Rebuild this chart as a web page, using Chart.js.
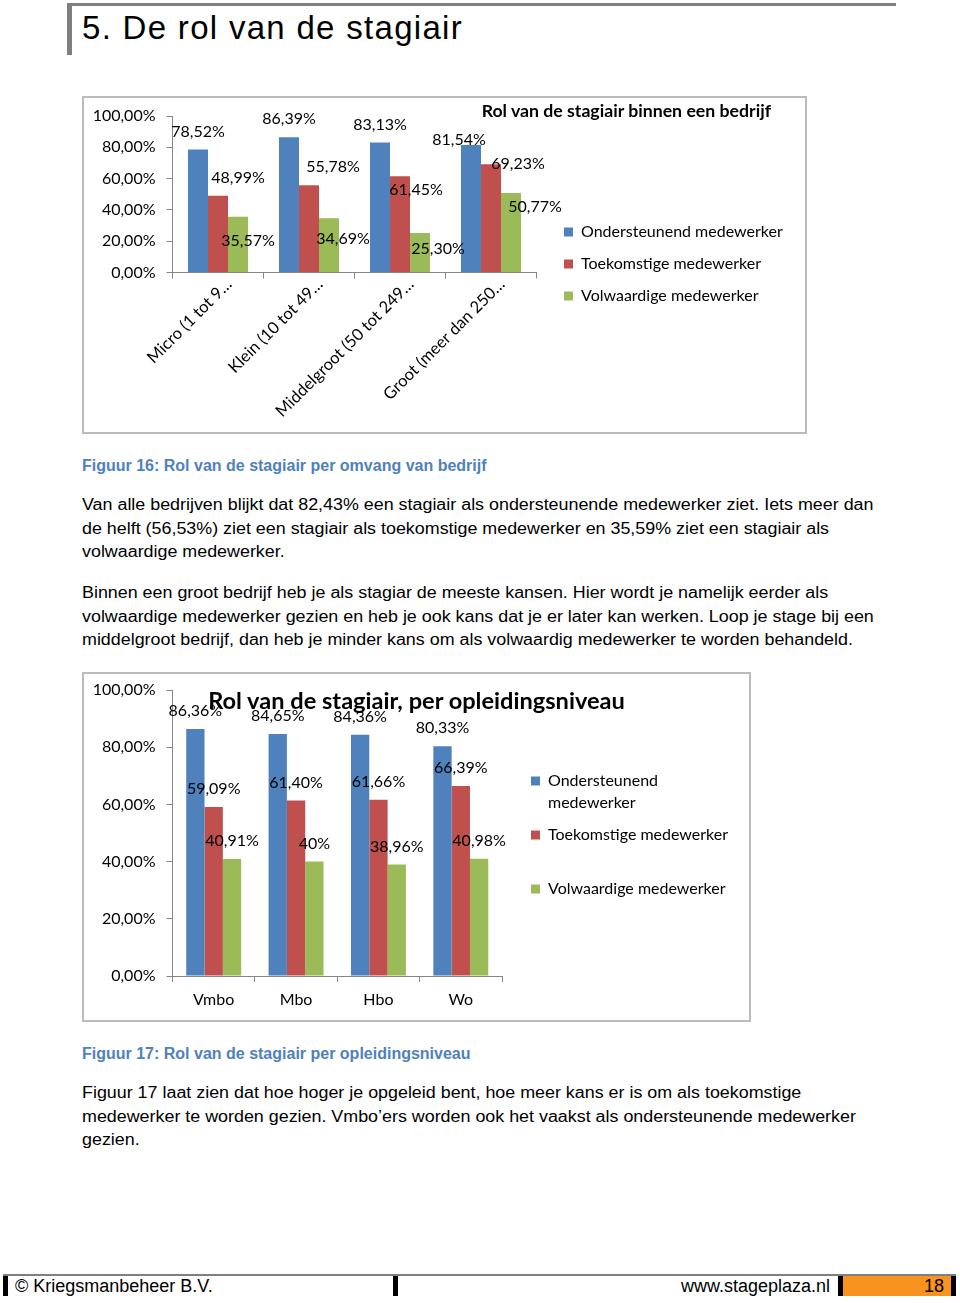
<!DOCTYPE html>
<html lang="nl">
<head>
    <meta charset="UTF-8">
    <title>5. De rol van de stagiair</title>
    <style>
        * {
            margin: 0;
            padding: 0;
            box-sizing: border-box;
        }

        body {
            width: 960px;
            height: 1303px;
            position: relative;
            overflow: hidden;
            background: #fff;
            color: #000;
            font-family: 'Liberation Sans', Arial, sans-serif;
        }

        .abs { position: absolute; }

        .head-top { left: 67px; top: 3px; width: 829px; height: 3px; background: #7f7f7f; }
        .head-left { left: 67px; top: 3px; width: 5px; height: 52px; background: #7f7f7f; }
        .page-title { left: 82px; top: 11px; font-size: 33px; line-height: 33px; letter-spacing: 1.3px; white-space: nowrap; }

        .chart-box {
            position: absolute;
            border: 2px solid #bcbcbc;
            background: #fff;
        }

        .chart-title {
            position: absolute;
            z-index: 2;
            font-family: Lato, 'Open Sans', sans-serif;
            font-weight: bold;
            white-space: nowrap;
        }

        .caption {
            left: 82px;
            font-size: 16px;
            line-height: 23.6px;
            font-weight: bold;
            color: #4f81bd;
            white-space: nowrap;
        }

        .para {
            left: 82px;
            font-size: 16px;
            line-height: 23.6px;
            white-space: nowrap;
            transform: scaleX(1.117);
            transform-origin: left top;
        }

        .foot-line { left: 3px; top: 1274px; width: 953px; height: 2px; background: #7f7f7f; }
        .foot-bar { top: 1276px; width: 5px; height: 20px; background: #000; }
        .foot-orange { left: 843px; top: 1276px; width: 108px; height: 20px; background: #f7931e; }
        .foot-text { top: 1277px; font-size: 18px; line-height: 18px; white-space: nowrap; }
    </style>
    <script src="https://cdn.jsdelivr.net/npm/chart.js@4.4.1/dist/chart.umd.min.js"></script>
</head>
<body>
    <div class="abs head-top"></div>
    <div class="abs head-left"></div>
    <div class="abs page-title">5. De rol van de stagiair</div>

    <div class="chart-box" style="left:82px; top:96px; width:725px; height:338px;">
        <div class="chart-title" style="right:34px; top:3px; font-size:17.7px; line-height:20px;">Rol van de stagiair binnen een bedrijf</div>
        <canvas id="sizeChart"></canvas>
    </div>

    <div class="abs caption" style="top:454px;">Figuur 16: Rol van de stagiair per omvang van bedrijf</div>

    <div class="abs para" style="top:493px;">
        Van alle bedrijven blijkt dat 82,43% een stagiair als ondersteunende medewerker ziet. Iets meer dan<br>
        de helft (56,53%) ziet een stagiair als toekomstige medewerker en 35,59% ziet een stagiair als<br>
        volwaardige medewerker.
    </div>

    <div class="abs para" style="top:581px;">
        Binnen een groot bedrijf heb je als stagiar de meeste kansen. Hier wordt je namelijk eerder als<br>
        volwaardige medewerker gezien en heb je ook kans dat je er later kan werken. Loop je stage bij een<br>
        middelgroot bedrijf, dan heb je minder kans om als volwaardig medewerker te worden behandeld.
    </div>

    <div class="chart-box" style="left:82px; top:672px; width:669px; height:350px;">
        <div class="chart-title" style="left:0; right:0; top:12px; text-align:center; font-size:23.6px; line-height:28px;">Rol van de stagiair, per opleidingsniveau</div>
        <canvas id="levelChart"></canvas>
    </div>

    <div class="abs caption" style="top:1042px;">Figuur 17: Rol van de stagiair per opleidingsniveau</div>

    <div class="abs para" style="top:1081px;">
        Figuur 17 laat zien dat hoe hoger je opgeleid bent, hoe meer kans er is om als toekomstige<br>
        medewerker te worden gezien. Vmbo’ers worden ook het vaakst als ondersteunende medewerker<br>
        gezien.
    </div>

    <div class="abs foot-line"></div>
    <div class="abs foot-bar" style="left:3px;"></div>
    <div class="abs foot-bar" style="left:393px;"></div>
    <div class="abs foot-bar" style="left:838px;"></div>
    <div class="abs foot-orange"></div>
    <div class="abs foot-bar" style="left:951px;"></div>
    <div class="abs foot-text" style="left:15px;">© Kriegsmanbeheer B.V.</div>
    <div class="abs foot-text" style="right:130px;">www.stageplaza.nl</div>
    <div class="abs foot-text" style="right:16px;">18</div>

    <script>
        // Figuur 16: per omvang van bedrijf
        const sizeLabels = ['Micro (1 tot 9…', 'Klein (10 tot 49…', 'Middelgroot (50 tot 249…', 'Groot (meer dan 250…'];
        const sizeOndersteunend = [78.52, 86.39, 83.13, 81.54];
        const sizeToekomstig = [48.99, 55.78, 61.45, 69.23];
        const sizeVolwaardig = [35.57, 34.69, 25.30, 50.77];

        // Figuur 17: per opleidingsniveau
        const levelLabels = ['Vmbo', 'Mbo', 'Hbo', 'Wo'];
        const levelOndersteunend = [86.36, 84.65, 84.36, 80.33];
        const levelToekomstig = [59.09, 61.40, 61.66, 66.39];
        const levelVolwaardig = [40.91, 40, 38.96, 40.98];

        const seriesNames = ['Ondersteunend medewerker', 'Toekomstige medewerker', 'Volwaardige medewerker'];
        const yTicks = [0, 20, 40, 60, 80, 100];

        const colors = ['#4f81bd', '#c0504d', '#9bbb59'];
        const axisColor = '#868686';

        Chart.defaults.font.family = "Lato, 'Open Sans', sans-serif";
        Chart.defaults.font.size = 16;
        Chart.defaults.color = '#000';

        function pct(v) {
            return (Number.isInteger(v) ? String(v) : v.toFixed(2).replace('.', ',')) + '%';
        }

        // value labels above the bars (Excel places some of them off-centre)
        const valueLabels = {
            id: 'valueLabels',
            afterDatasetsDraw(chart, args, opts) {
                const ctx = chart.ctx;
                ctx.save();
                ctx.font = "16px Lato, 'Open Sans', sans-serif";
                ctx.fillStyle = '#000';
                ctx.textAlign = 'center';
                ctx.textBaseline = 'middle';
                chart.data.datasets.forEach((ds, i) => {
                    chart.getDatasetMeta(i).data.forEach((bar, j) => {
                        const off = opts.offsets ? opts.offsets[i][j] : [0, -18];
                        ctx.fillText(pct(ds.data[j]), bar.x + off[0], bar.y + off[1]);
                    });
                });
                ctx.restore();
            }
        };

        // put the legend a fixed distance right of the plot, and let it run to the canvas edge
        const legendGap = {
            id: 'legendGap',
            afterLayout(chart, args, opts) {
                const lg = chart.legend;
                const d = chart.chartArea.right + opts.gap - lg.options.labels.padding - lg.left;
                lg.left += d;
                lg.right = chart.width;
                lg.width = lg.right - lg.left;
                lg.top += opts.dy || 0;
                lg.bottom += opts.dy || 0;
            }
        };

        function makeDatasets(a, b, c) {
            return [a, b, c].map((data, i) => ({
                label: seriesNames[i],
                data: data,
                backgroundColor: colors[i],
                borderWidth: 0
            }));
        }

        function yScale(width) {
            return {
                min: 0,
                max: 100,
                afterBuildTicks: s => { s.ticks = yTicks.map(v => ({ value: v })); },
                grid: { drawOnChartArea: false, tickLength: 6, color: axisColor },
                border: { color: axisColor },
                ticks: { padding: 11, autoSkip: false, callback: v => v.toFixed(2).replace('.', ',') + '%' },
                afterFit: s => {
                    s.width = width;
                    // plot top/bottom come from layout.padding only
                    s.paddingTop = 0;
                    s.paddingBottom = 0;
                }
            };
        }

        new Chart(document.getElementById('sizeChart'), {
            type: 'bar',
            data: {
                labels: sizeLabels,
                datasets: makeDatasets(sizeOndersteunend, sizeToekomstig, sizeVolwaardig)
            },
            options: {
                responsive: true,
                maintainAspectRatio: false,
                animation: false,
                layout: { padding: { top: 18, right: 68.5, bottom: 0, left: 0 } },
                datasets: { bar: { barPercentage: 1, categoryPercentage: 0.66 } },
                scales: {
                    x: {
                        grid: { drawOnChartArea: false, tickLength: 6, color: axisColor },
                        border: { color: axisColor },
                        ticks: { minRotation: 45, maxRotation: 45, autoSkip: false, padding: -4, labelOffset: 11, font: { size: 16.5 } },
                        afterFit: s => { s.height = 159.5; }
                    },
                    y: yScale(88.5)
                },
                plugins: {
                    legend: {
                        position: 'right',
                        maxWidth: 200,
                        labels: { boxWidth: 9, boxHeight: 9, padding: 16, font: { size: 16 } }
                    },
                    tooltip: { enabled: false },
                    legendGap: { gap: 27.5, dy: -10 },
                    valueLabels: {
                        offsets: [
                            [[0, -18], [0, -18], [0, -18], [-12, -5]],
                            [[20, -18], [24, -18], [16, 14], [27, 0]],
                            [[10, 24], [14, 21], [18, 16], [24, 14]]
                        ]
                    }
                }
            },
            plugins: [valueLabels, legendGap]
        });

        new Chart(document.getElementById('levelChart'), {
            type: 'bar',
            data: {
                labels: levelLabels,
                datasets: makeDatasets(levelOndersteunend, levelToekomstig, levelVolwaardig)
            },
            options: {
                responsive: true,
                maintainAspectRatio: false,
                animation: false,
                layout: { padding: { top: 16, right: 47, bottom: 12, left: 0 } },
                datasets: { bar: { barPercentage: 1, categoryPercentage: 0.667 } },
                scales: {
                    x: {
                        grid: { drawOnChartArea: false, tickLength: 6, color: axisColor },
                        border: { color: axisColor },
                        ticks: { maxRotation: 0, autoSkip: false, padding: 8 },
                        afterFit: s => { s.height = 32; }
                    },
                    y: yScale(88.5)
                },
                plugins: {
                    legend: {
                        position: 'right',
                        maxWidth: 200,
                        labels: {
                            boxWidth: 9,
                            boxHeight: 9,
                            padding: 10,
                            font: { size: 16, lineHeight: 1.375 },
                            generateLabels: chart => Chart.defaults.plugins.legend.labels.generateLabels(chart).map((item, i) => {
                                item.text = i === 0 ? ['Ondersteunend', 'medewerker'] : [item.text, ''];
                                return item;
                            })
                        }
                    },
                    tooltip: { enabled: false },
                    legendGap: { gap: 29 },
                    valueLabels: {}
                }
            },
            plugins: [valueLabels, legendGap]
        });
    </script>
</body>
</html>
